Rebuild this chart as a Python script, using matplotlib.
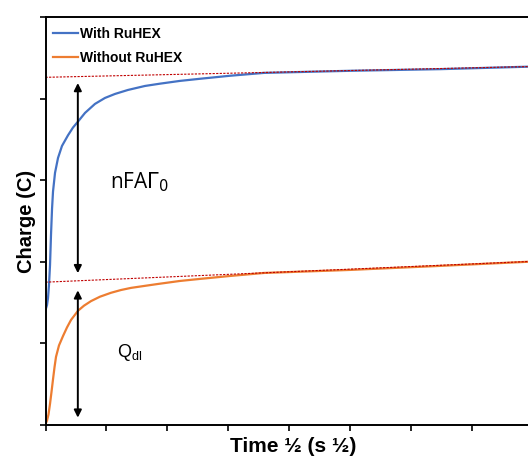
import numpy as np
import matplotlib.pyplot as plt

# charge vs sqrt(time)
t_with = [0.000, 0.025, 0.041, 0.057, 0.074, 0.090, 0.107, 0.123, 0.156, 0.205, 0.270, 0.369,
          0.451, 0.533, 0.648, 0.811, 0.975, 1.139, 1.352, 1.631, 1.877, 2.205, 2.533, 3.025,
          3.582, 5.0, 6.48, 7.91, 8.14]
q_with = [1.409, 1.471, 1.556, 1.716, 1.961, 2.328, 2.650, 2.860, 3.090, 3.272, 3.419, 3.550,
          3.645, 3.718, 3.824, 3.934, 4.007, 4.056, 4.105, 4.154, 4.182, 4.216, 4.242, 4.279,
          4.314, 4.34, 4.36, 4.39, 4.395]

t_without = [0.000, 0.025, 0.049, 0.074, 0.098, 0.123, 0.148, 0.172, 0.221, 0.287, 0.352, 0.418,
             0.533, 0.631, 0.746, 0.893, 1.074, 1.238, 1.402, 1.631, 1.844, 2.205, 2.533, 3.025,
             3.582, 4.99, 6.48, 7.91, 8.14]
q_without = [0.012, 0.055, 0.130, 0.260, 0.404, 0.560, 0.710, 0.835, 0.975, 1.090, 1.195, 1.287,
             1.400, 1.462, 1.518, 1.572, 1.620, 1.654, 1.680, 1.705, 1.728, 1.765, 1.790, 1.826,
             1.863, 1.90, 1.95, 2.00, 2.01]

# linear extrapolations of the long-time part back to t = 0
fit_t = [0.0, 8.14]
fit_with = [4.26, 4.395]
fit_without = [1.75, 2.01]

# double arrows marking the two charge contributions
arrow_x = 0.53
gamma_span = [4.19, 1.86]
qdl_span = [1.65, 0.09]

blue = '#4472C4'
orange = '#ED7D31'

fig = plt.figure(figsize=(5.28, 4.57), dpi=100)
ax = fig.add_axes([0.0862, 0.070, 0.940, 0.893])

ax.plot(t_with, q_with, color=blue, lw=1.6, label='With RuHEX')
ax.plot(t_without, q_without, color=orange, lw=1.6, label='Without RuHEX')
ax.plot(fit_t, fit_with, color='#C00000', lw=0.8, ls=(0, (2, 1.2)))
ax.plot(fit_t, fit_without, color='#C00000', lw=0.8, ls=(0, (2, 1.2)))

arrow = dict(arrowstyle='<|-|>', color='black', lw=1.4, mutation_scale=11,
             shrinkA=0, shrinkB=0)
ax.annotate('', xy=(arrow_x, gamma_span[0]), xytext=(arrow_x, gamma_span[1]), arrowprops=arrow)
ax.annotate('', xy=(arrow_x, qdl_span[0]), xytext=(arrow_x, qdl_span[1]), arrowprops=arrow)

ax.text(1.06, 2.98, r'nFA$\Gamma_0$', fontsize=15, family='Open Sans', va='center', ha='left')
ax.text(1.17, 0.89, r'Q$_{\mathregular{dl}}$', fontsize=13, family='Liberation Sans', va='center', ha='left')

ax.set_xlim(0, 8.14)
ax.set_ylim(0, 5)
ax.set_xticks(range(0, 9))
ax.set_yticks(range(0, 6))
ax.set_xticklabels([])
ax.set_yticklabels([])
ax.tick_params(direction='out', length=4, width=1.2)
for s in ax.spines.values():
    s.set_linewidth(1.4)

ax.set_ylabel('Charge (C)', family='Liberation Sans', fontweight='bold', fontsize=14.5, labelpad=-1)
ax.set_xlabel('Time ½ (s ½)', family='Liberation Sans', fontweight='bold', fontsize=15, labelpad=1)

ax.legend(loc='upper left', bbox_to_anchor=(-0.005, 1.0), frameon=False,
          prop={'family': 'Liberation Sans', 'weight': 'bold', 'size': 10},
          handlelength=1.8, handletextpad=0.15, labelspacing=0.72, borderaxespad=0.3)

fig.savefig('out.png', dpi=100)
